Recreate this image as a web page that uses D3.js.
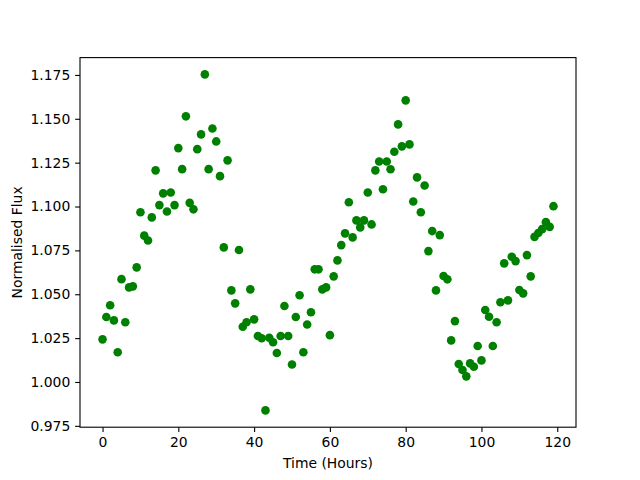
<!DOCTYPE html>
<html>
<head>
<meta charset="utf-8">
<script src="https://cdn.jsdelivr.net/npm/d3@7/dist/d3.min.js"></script>
<style>
  body { margin: 0; background: #fff; }
  svg { display: block; }
  text { font-family: "DejaVu Sans", sans-serif; }
</style>
</head>
<body>
<svg id="chart" width="640" height="480"></svg>
<script>
// Time in hours (0..119)
const hours = d3.range(0, 120);
// Normalised flux readings
const flux = [
  1.0243, 1.0370, 1.0437, 1.0351, 1.0169, 1.0586, 1.0340, 1.0539, 1.0545, 1.0653,
  1.0967, 1.0834, 1.0806, 1.0938, 1.1206, 1.1008, 1.1075, 1.0972, 1.1080, 1.1008,
  1.1333, 1.1213, 1.1514, 1.1021, 1.0984, 1.1327, 1.1411, 1.1753, 1.1213, 1.1445,
  1.1371, 1.1173, 1.0767, 1.1263, 1.0522, 1.0448, 1.0752, 1.0315, 1.0340, 1.0528,
  1.0357, 1.0262, 1.0249, 0.9838, 1.0252, 1.0226, 1.0165, 1.0262, 1.0433, 1.0262,
  1.0100, 1.0370, 1.0494, 1.0169, 1.0328, 1.0397, 1.0642, 1.0642, 1.0528, 1.0539,
  1.0267, 1.0602, 1.0693, 1.0780, 1.0847, 1.1024, 1.0824, 1.0921, 1.0881, 1.0921,
  1.1080, 1.0898, 1.1206, 1.1257, 1.1098, 1.1257, 1.1212, 1.1312, 1.1468, 1.1343,
  1.1605, 1.1354, 1.1029, 1.1166, 1.0967, 1.1120, 1.0746, 1.0860, 1.0522, 1.0837,
  1.0604, 1.0585, 1.0237, 1.0347, 1.0102, 1.0068, 1.0032, 1.0106, 1.0087, 1.0205,
  1.0123, 1.0410, 1.0372, 1.0205, 1.0340, 1.0454, 1.0676, 1.0465, 1.0714, 1.0689,
  1.0524, 1.0505, 1.0723, 1.0602, 1.0827, 1.0849, 1.0871, 1.0911, 1.0884, 1.1002
];
const xTicks = [0, 20, 40, 60, 80, 100, 120];
const yTicks = [0.975, 1.000, 1.025, 1.050, 1.075, 1.100, 1.125, 1.150, 1.175];
const xLabel = "Time (Hours)";
const yLabel = "Normalised Flux";

(function () {
  const svg = d3.select("#chart");
  const mLeft = 80, mRight = 576, mTop = 57.6, mBottom = 427.2;
  const fs = 13.9, tickLen = 4.86, pad = 4.86;

  const xExt = d3.extent(hours), yExt = d3.extent(flux);
  const xm = (xExt[1] - xExt[0]) * 0.05, ym = (yExt[1] - yExt[0]) * 0.05;
  const x = d3.scaleLinear().domain([xExt[0] - xm, xExt[1] + xm]).range([mLeft, mRight]);
  const y = d3.scaleLinear().domain([yExt[0] - ym, yExt[1] + ym]).range([mBottom, mTop]);

  // points
  svg.append("g").selectAll("circle")
    .data(hours.map((h, i) => [h, flux[i]]))
    .join("circle")
    .attr("cx", d => x(d[0]))
    .attr("cy", d => y(d[1]))
    .attr("r", 4.3)
    .attr("fill", "#008000");

  // axes
  const xAxis = svg.append("g").attr("transform", `translate(0,${mBottom})`)
    .call(d3.axisBottom(x).tickValues(xTicks).tickFormat(d3.format("d"))
      .tickSize(tickLen).tickPadding(pad));
  const yAxis = svg.append("g").attr("transform", `translate(${mLeft},0)`)
    .call(d3.axisLeft(y).tickValues(yTicks).tickFormat(d3.format(".3f"))
      .tickSize(tickLen).tickPadding(pad));
  [xAxis, yAxis].forEach(a => {
    a.select(".domain").remove();
    a.selectAll(".tick line").attr("stroke", "#000").attr("stroke-width", 1.1);
    a.selectAll(".tick text").attr("fill", "#000")
      .style("font-family", "'DejaVu Sans', sans-serif").style("font-size", fs + "px");
  });

  // frame
  svg.append("rect")
    .attr("x", mLeft).attr("y", mTop)
    .attr("width", mRight - mLeft).attr("height", mBottom - mTop)
    .attr("fill", "none").attr("stroke", "#000").attr("stroke-width", 1.1);

  // labels
  svg.append("text")
    .attr("x", (mLeft + mRight) / 2).attr("y", 468)
    .attr("text-anchor", "middle").style("font-size", fs + "px")
    .text(xLabel);
  svg.append("text")
    .attr("transform", `translate(22,${(mTop + mBottom) / 2}) rotate(-90)`)
    .attr("text-anchor", "middle").style("font-size", fs + "px")
    .text(yLabel);
})();
</script>
</body>
</html>
